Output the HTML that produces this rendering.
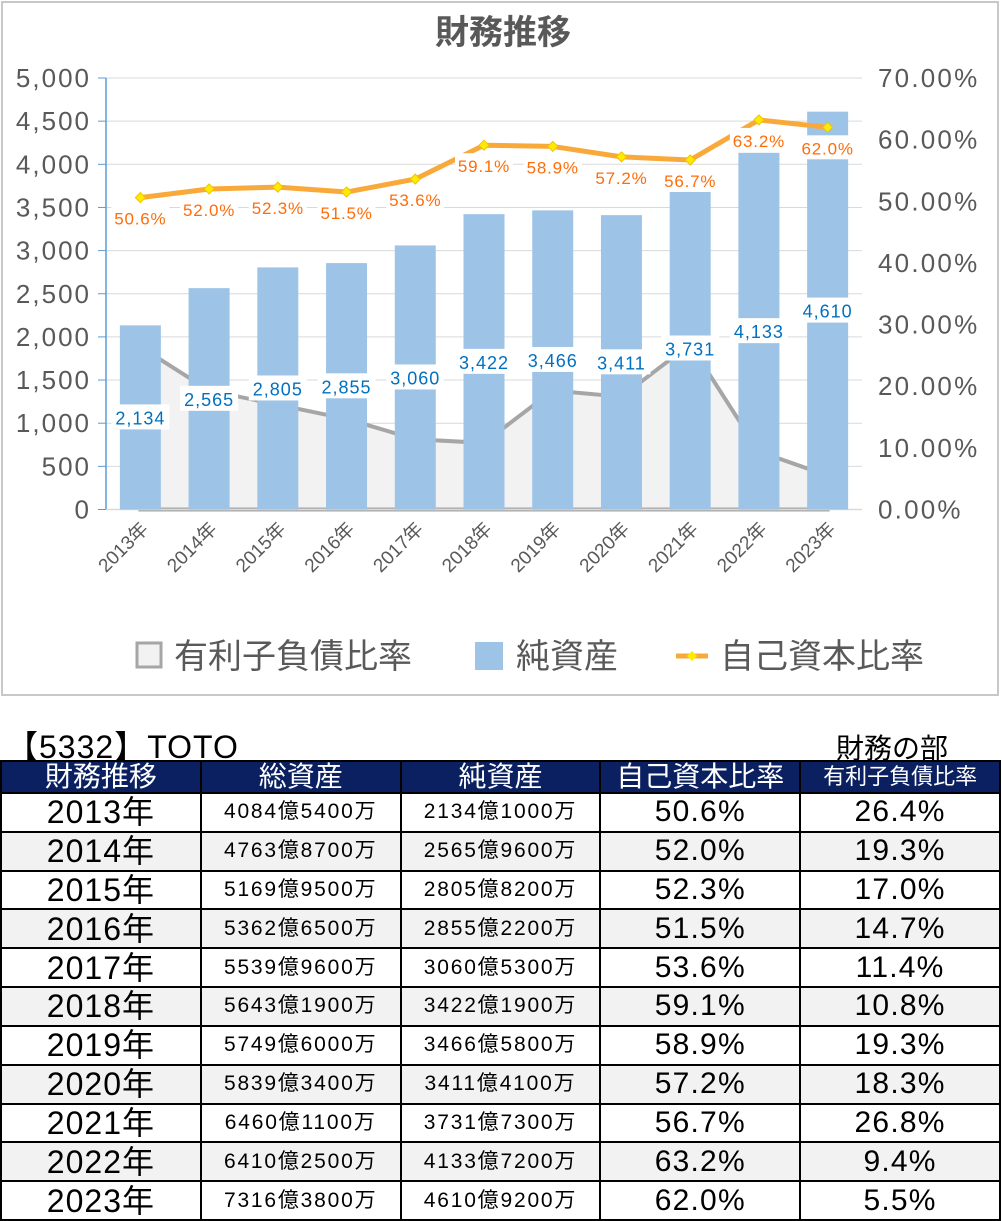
<!DOCTYPE html>
<html><head><meta charset="utf-8"><style>
body{margin:0;width:1002px;height:1221px;background:#fff;overflow:hidden;font-family:"Liberation Sans","Noto Sans CJK JP",sans-serif;}
#chart{position:absolute;left:0;top:0}
#title2{position:absolute;left:6px;top:722px;font-size:32px;color:#000;letter-spacing:1px}
#bu{position:absolute;left:836px;top:727px;font-size:28px;color:#000}
table{position:absolute;left:0;top:760px;border-collapse:collapse;width:1001px;height:461px;table-layout:fixed}
td,th{border:2.5px solid #000;text-align:center;padding:0;white-space:nowrap;line-height:30px}
th{background:#0a2060;color:#fff;font-weight:normal;font-size:28px}
td.y{font-size:32px;letter-spacing:1px}
td.m{font-size:21px;letter-spacing:1.8px}
td.p{font-size:30px;letter-spacing:1.2px}
tr.alt td{background:#f2f2f2}
</style></head><body>
<svg id="chart" width="1002" height="700"></svg>
<div id="title2">【5332】TOTO</div>
<div id="bu">財務の部</div>
<table><thead><tr>
<th>財務推移</th><th>総資産</th><th>純資産</th><th>自己資本比率</th><th style="font-size:22px">有利子負債比率</th></tr></thead><tbody id="tb"></tbody></table>
<script>
const years=["2013年","2014年","2015年","2016年","2017年","2018年","2019年","2020年","2021年","2022年","2023年"];
const netAssets=[2134,2565,2805,2855,3060,3422,3466,3411,3731,4133,4610];
const equityRatio=[50.6,52.0,52.3,51.5,53.6,59.1,58.9,57.2,56.7,63.2,62.0];
const debtRatio=[26.4,19.3,17.0,14.7,11.4,10.8,19.3,18.3,26.8,9.4,5.5];
const totalAssets=["4084億5400万","4763億8700万","5169億9500万","5362億6500万","5539億9600万","5643億1900万","5749億6000万","5839億3400万","6460億1100万","6410億2500万","7316億3800万"];
const netAssetsText=["2134億1000万","2565億9600万","2805億8200万","2855億2200万","3060億5300万","3422億1900万","3466億5800万","3411億4100万","3731億7300万","4133億7200万","4610億9200万"];
const leftTicks=[0,500,1000,1500,2000,2500,3000,3500,4000,4500,5000];
const rightTicks=[0,10,20,30,40,50,60,70];

const NS="http://www.w3.org/2000/svg";
const svg=document.getElementById('chart');
function mk(t,a,p){const e=document.createElementNS(NS,t);for(const k in a)e.setAttribute(k,a[k]);(p||svg).appendChild(e);return e;}
const X0=106,X1=862,Y0=509.5,Y1=78;
const yL=v=>Y0-(v/5000)*(Y0-Y1);
const yR=v=>Y0-(v/70)*(Y0-Y1);
const step=(X1-X0)/years.length;
const xC=i=>X0+step*(i+0.5);

let e=mk('rect',{x:2,y:2,width:996,height:693,fill:'#fff',stroke:'#c8c8c8','stroke-width':2});

e=mk('text',{x:503,y:44,'font-size':34,'text-anchor':'middle',fill:'#595959','font-weight':'bold'});e.textContent='財務推移';


leftTicks.forEach(v=>{
 if(v>0){const g=mk('line',{x1:X0,x2:X1,y1:yL(v),y2:yL(v),stroke:'#d9d9d9','stroke-width':1});
 }
 const t=mk('line',{x1:98,x2:X0,y1:yL(v),y2:yL(v),stroke:'#5b9bd5','stroke-width':1});
 
 const l=mk('text',{x:91,y:yL(v)+9,'font-size':26,'letter-spacing':2,'text-anchor':'end',fill:'#595959'});l.textContent=v.toLocaleString('en-US');
 
});
rightTicks.forEach(v=>{
 const l=mk('text',{x:878,y:yR(v)+9,'font-size':26,'letter-spacing':2.2,fill:'#595959'});l.textContent=v.toFixed(2)+'%';
 
});
let d='M'+xC(0)+','+Y0;
debtRatio.forEach((v,i)=>{d+=' L'+xC(i)+','+yR(v);});
d+=' L'+xC(years.length-1)+','+Y0+' Z';
e=mk('path',{d:d,fill:'#f2f2f2',stroke:'#a6a6a6','stroke-width':4});

e=mk('line',{x1:X0,x2:X0,y1:Y1,y2:Y0,stroke:'#5b9bd5','stroke-width':1.5});

e=mk('line',{x1:X0,x2:X1,y1:Y0,y2:Y0,stroke:'#d9d9d9','stroke-width':1.5});

netAssets.forEach((v,i)=>{
 const b=mk('rect',{x:xC(i)-20.5,y:yL(v),width:41,height:Y0-yL(v),fill:'#9dc3e6'});
 
});
netAssets.forEach((v,i)=>{
 const cy=(yL(v)+Y0)/2, s=v.toLocaleString('en-US');
 const r=mk('rect',{x:xC(i)-29,y:cy-13,width:58,height:25,fill:'#fff'});
 
 const t=mk('text',{x:xC(i),y:cy+7,'font-size':18,'letter-spacing':1,'text-anchor':'middle',fill:'#0070c0'});t.textContent=s;
 
});
const pts=equityRatio.map((v,i)=>xC(i)+','+yR(v)).join(' ');
e=mk('polyline',{points:pts,fill:'none',stroke:'#f9a93a','stroke-width':5,'stroke-linejoin':'round'});

equityRatio.forEach((v,i)=>{
 const x=xC(i),y=yR(v);
 const m=mk('polygon',{points:`${x},${y-5} ${x+5},${y} ${x},${y+5} ${x-5},${y}`,fill:'#ffeb00',stroke:'#f2c100','stroke-width':1});
 
 const r=mk('rect',{x:x-29,y:y+8,width:58,height:24,fill:'#fff'});
 
 const t=mk('text',{x:x,y:y+27,'font-size':17,'letter-spacing':0.8,'text-anchor':'middle',fill:'#ff6d0a'});t.textContent=v.toFixed(1)+'%';
 
});
years.forEach((y,i)=>{
 const x=xC(i)+9,yy=530;
 const t=mk('text',{x:x,y:yy,'font-size':19,'text-anchor':'end',fill:'#595959',transform:`rotate(-45 ${x} ${yy})`});t.textContent=y;
 
});
e=mk('rect',{x:137,y:643,width:24,height:24,fill:'#f2f2f2',stroke:'#a6a6a6','stroke-width':3});

e=mk('text',{x:174,y:668,'font-size':34,fill:'#595959'});e.textContent='有利子負債比率';

e=mk('rect',{x:475,y:642,width:28,height:28,fill:'#9dc3e6'});

e=mk('text',{x:516,y:668,'font-size':34,fill:'#595959'});e.textContent='純資産';

e=mk('line',{x1:676,x2:708,y1:656,y2:656,stroke:'#f9a93a','stroke-width':5});

e=mk('polygon',{points:'692,651 697,656 692,661 687,656',fill:'#ffeb00'});
e=mk('text',{x:720,y:668,'font-size':34,fill:'#595959'});e.textContent='自己資本比率';


const tb=document.getElementById('tb');
years.forEach((y,i)=>{
 const tr=document.createElement('tr');
 
 
 if(i%2)tr.className='alt';
 const cells=[[y,'y'],[totalAssets[i],'m'],[netAssetsText[i],'m'],[equityRatio[i].toFixed(1)+'%','p'],[debtRatio[i].toFixed(1)+'%','p']];
 cells.forEach(c=>{const td=document.createElement('td');td.className=c[1];td.textContent=c[0];
  
  
  tr.appendChild(td);});
 tb.appendChild(tr);
});
</script>
</body></html>
